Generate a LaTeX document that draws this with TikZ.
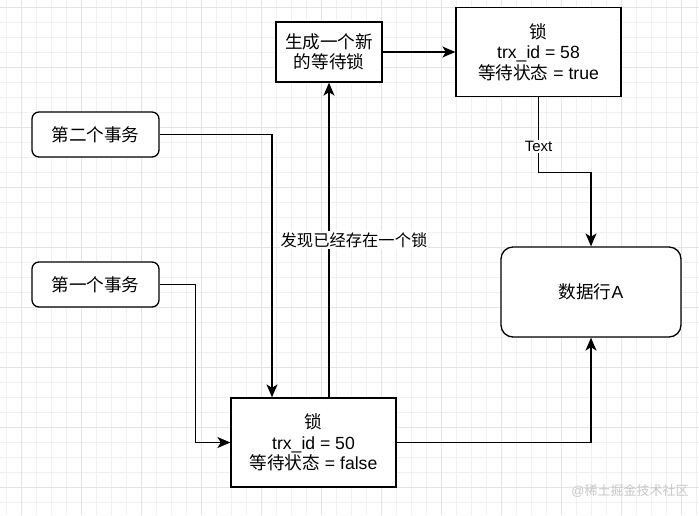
\documentclass[tikz,border=0pt]{standalone}
\usepackage{fontspec}
\setmainfont{Liberation Sans}
\newfontfamily\cjk{Noto Sans CJK SC}
\usetikzlibrary{arrows.meta}

\tikzset{
  gridminor/.style={draw=black!6,line width=0.8pt},
  gridmajor/.style={draw=black!11,line width=0.9pt},
  lockbox/.style={draw,fill=white,line width=1.3pt,minimum width=165pt,minimum height=89pt,align=center,
    font=\fontsize{17.6}{20.5}\selectfont},
  txbox/.style={draw,fill=white,line width=1.3pt,rounded corners=7pt,minimum width=127pt,minimum height=45pt,
    align=center,font=\fontsize{17.6}{20.5}\selectfont},
  link/.style={->,line width=1.3pt},
  edgelabel/.style={fill=white,inner sep=1pt,font=\fontsize{16.3}{18}\selectfont}
}

\begin{document}
\begin{tikzpicture}[x=1pt,y=-1pt,line cap=butt,line join=miter,
    >={Stealth[length=13pt,width=11pt,inset=3.5pt]}]
  \useasboundingbox (0,0) rectangle (699,515);
  \fill[white] (0,0) rectangle (699,515);
  % grid
  \foreach \gx in {6,21,...,696} \draw[gridminor] (\gx,0) -- (\gx,515);
  \foreach \gy in {7,22,...,514} \draw[gridminor] (0,\gy) -- (699,\gy);
  \foreach \gx in {21,81,...,681} \draw[gridmajor] (\gx,0) -- (\gx,515);
  \foreach \gy in {7,67,...,487} \draw[gridmajor] (0,\gy) -- (699,\gy);

  % boxes
  \node[lockbox,minimum width=106pt,minimum height=60pt] (newlock) at (329,52) {{\cjk 生成一个新}\\{\cjk 的等待锁}};
  \node[lockbox] (lock58) at (538.5,52) {{\cjk 锁}\\trx\_id = 58\\{\cjk 等待状态} = true};
  \node[txbox] (tx2) at (95.5,134.5) {\cjk 第二个事务};
  \node[txbox] (tx1) at (95.5,284.5) {\cjk 第一个事务};
  \node[lockbox] (lock50) at (313.5,442.5) {{\cjk 锁}\\trx\_id = 50\\{\cjk 等待状态} = false};
  \node[txbox,rounded corners=12pt,minimum width=180pt,minimum height=90pt] (rowA) at (591,292) {{\cjk 数据行}A};

  % links
  \draw[link] (tx2.east) -| ([xshift=-41.5pt]lock50.north);
  \draw[link] (tx1.east) -- ++(36,0) |- (lock50.west);
  \draw[link] (newlock.south |- lock50.north) -- node[edgelabel,xshift=25pt] {\cjk 发现已经存在一个锁} (newlock.south);
  \draw[link] (newlock) -- (lock58);
  \draw[link] (lock58.south) -- node[edgelabel,pos=0.66,font=\fontsize{15}{17}\selectfont] {Text} ++(0,75) -| (rowA.north);
  \draw[link] (lock50.east) -| (rowA.south);

  \node[text=black!22,font=\fontsize{13}{15}\selectfont] (mark) at (630,491) {@{\cjk 稀土掘金技术社区}};
\end{tikzpicture}
\end{document}
